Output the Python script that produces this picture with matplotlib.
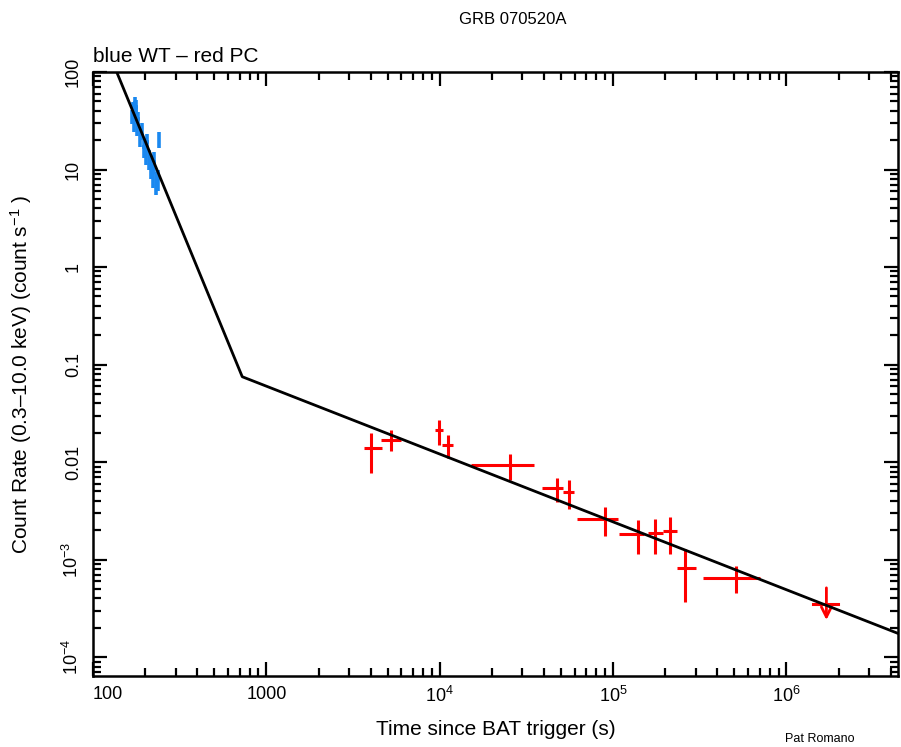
import matplotlib
matplotlib.use("Agg")
import matplotlib.pyplot as plt
from matplotlib.ticker import FixedLocator, FuncFormatter, LogLocator, NullFormatter

plt.rcParams['font.family'] = ['Liberation Sans', 'DejaVu Sans']
plt.rcParams['mathtext.fontset'] = 'custom'
plt.rcParams['mathtext.rm'] = 'Liberation Sans'

# WT mode (blue) points: time (s), half-width, rate, error
wt_time = [168, 170, 172, 174, 176, 178, 180, 183, 187, 192, 196, 201, 206, 211, 216, 221, 226, 231, 236, 240]
wt_time_err = [3, 3, 3, 3, 3, 3, 3, 3.5, 3.5, 3.5, 3.5, 4, 4, 4, 4, 4, 4, 4, 4, 3]
wt_rate = [35, 42, 30, 48, 38, 44, 28, 33, 22, 25, 17, 15, 19, 13, 11, 9, 12, 7.5, 8.0, 20.5]
wt_rate_err = [6, 7, 6, 8, 7, 8, 6, 6, 5, 5, 4, 4, 4, 3, 3, 2.5, 3, 2, 2, 4]

# PC mode (red) points
pc_time = [4010, 5210, 9910, 11090, 25290, 47300, 55500, 89900, 140000, 173400, 213300, 260600, 514000]
pc_time_lo = [3650, 4560, 9390, 10280, 15100, 38700, 51200, 61900, 108700, 160000, 195300, 234500, 330000]
pc_time_hi = [4630, 6010, 10450, 12000, 34800, 51600, 59300, 106400, 151700, 193600, 234500, 299000, 701000]
pc_rate = [0.0138, 0.0170, 0.0211, 0.0151, 0.0094, 0.00542, 0.0049, 0.00263, 0.00183, 0.00188, 0.00195, 0.00082, 0.00065]
pc_rate_err = [0.0061, 0.0041, 0.0060, 0.0040, 0.0028, 0.0015, 0.0016, 0.00087, 0.0007, 0.00074, 0.0008, 0.00045, 0.0002]

# PC upper limit
ul_time, ul_time_lo, ul_time_hi = 1.70e6, 1.43e6, 1.99e6
ul_rate, ul_top, ul_tip = 3.54e-4, 5.13e-4, 2.4e-4

# broken power-law fit (vertices)
model_time = [137, 726, 4.4e6]
model_rate = [100, 0.075, 1.75e-4]

xticks = [100, 1000, 1e4, 1e5, 1e6]
xtick_labels = ['100', '1000', r'$\mathregular{10^{4}}$', r'$\mathregular{10^{5}}$', r'$\mathregular{10^{6}}$']
yticks = [1e-4, 1e-3, 0.01, 0.1, 1, 10, 100]
ytick_labels = [r'$\mathregular{10^{-4}}$', r'$\mathregular{10^{-3}}$', '0.01', '0.1', '1', '10', '100']

fig = plt.figure(figsize=(9.01, 7.47), dpi=100)
ax = fig.add_axes([93 / 901, 71 / 747, 805 / 901, 604 / 747])
ax.set_xscale('log')
ax.set_yscale('log')
ax.set_xlim(100, 4.4e6)
ax.set_ylim(6.4e-5, 100)

ax.plot(model_time, model_rate, color='black', lw=2.0, zorder=3)

ax.errorbar(wt_time, wt_rate, xerr=wt_time_err, yerr=wt_rate_err, fmt='none',
            ecolor='#1a88f0', elinewidth=2.6, capsize=0, zorder=2)

xerr = [[t - lo for t, lo in zip(pc_time, pc_time_lo)], [hi - t for t, hi in zip(pc_time, pc_time_hi)]]
ax.errorbar(pc_time, pc_rate, xerr=xerr, yerr=pc_rate_err, fmt='none',
            ecolor='#ff0000', elinewidth=2.2, capsize=0, zorder=2)

ax.plot([ul_time_lo, ul_time_hi], [ul_rate, ul_rate], color='#ff0000', lw=2.2, zorder=2)
ax.annotate('', xy=(ul_time, ul_tip), xytext=(ul_time, ul_top),
            arrowprops=dict(arrowstyle='->', color='#ff0000', lw=2.0, mutation_scale=18,
                            shrinkA=0, shrinkB=0), zorder=2)

ax.xaxis.set_major_locator(FixedLocator(xticks))
ax.xaxis.set_major_formatter(FuncFormatter(lambda v, p: xtick_labels[p] if p < len(xtick_labels) else ''))
ax.yaxis.set_major_locator(FixedLocator(yticks))
ax.yaxis.set_major_formatter(FuncFormatter(lambda v, p: ytick_labels[p] if p < len(ytick_labels) else ''))
for a in (ax.xaxis, ax.yaxis):
    a.set_minor_locator(LogLocator(base=10, subs=range(2, 10), numticks=20))
    a.set_minor_formatter(NullFormatter())

ax.tick_params(which='both', direction='in', top=True, right=True, width=1.6, labelsize=13)
ax.tick_params(which='major', length=10)
ax.tick_params(which='minor', length=5.5)
ax.tick_params(axis='x', pad=7)
ax.tick_params(axis='y', pad=8, labelrotation=90)
for lab in ax.get_yticklabels():
    lab.set_va('center')
ax.xaxis.get_major_ticks()[0].label1.set_horizontalalignment('left')
for s in ax.spines.values():
    s.set_linewidth(1.8)

ax.set_xlabel('Time since BAT trigger (s)', fontsize=15, labelpad=10)
ax.set_ylabel(r'Count Rate (0.3–10.0 keV) (count s$\mathregular{^{-1}}$ )', fontsize=15, labelpad=20)
ax.text(0.0, 1.01, 'blue WT – red PC', transform=ax.transAxes, fontsize=15, ha='left', va='bottom')
fig.text(513 / 901, 1 - 20 / 747, 'GRB 070520A', fontsize=12, ha='center', va='center')
fig.text(820 / 901, 1 - 739 / 747, 'Pat Romano', fontsize=9, ha='center', va='center')

fig.savefig('out.png', dpi=100)
